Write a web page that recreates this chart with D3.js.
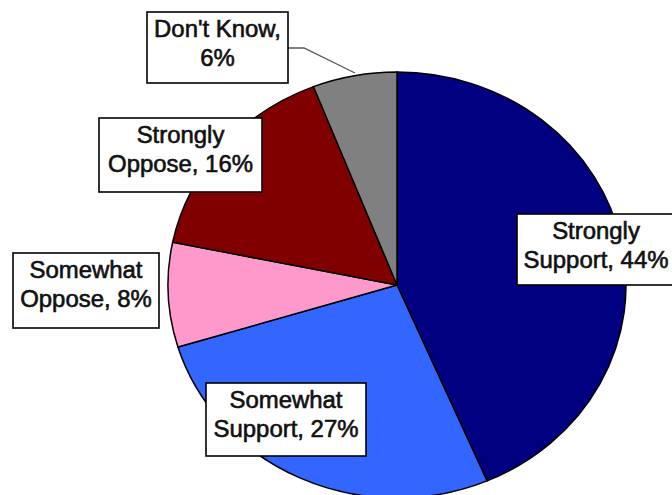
<!DOCTYPE html>
<html>
<head>
<meta charset="utf-8">
<script src="https://cdn.jsdelivr.net/npm/d3@7"></script>
<style>
  html, body { margin: 0; padding: 0; background: #fff; }
  svg { display: block; }
</style>
</head>
<body>
<div id="container"></div>
<script>
// data, clockwise from 12 o'clock
const categories = ['Strongly Support', 'Somewhat Support', 'Somewhat Oppose', 'Strongly Oppose', "Don't Know"];
const values = [44, 27, 8, 16, 6];
const labelLines = [
  ['Strongly', 'Support, 44%'],
  ['Somewhat', 'Support, 27%'],
  ['Somewhat', 'Oppose, 8%'],
  ['Strongly', 'Oppose, 16%'],
  ["Don't Know,", '6%']
];
const colors = ['#000080', '#3366ff', '#ff99cc', '#800000', '#808080'];

// layout of the label boxes (x, y, w, h)
const boxes = [
  [517, 214, 158, 71],
  [206, 383, 160, 73],
  [13, 253, 146, 75],
  [99, 118, 163, 74],
  [147, 12, 141, 71]
];

const w = 672;
const h = 495;
const cx = 397, cy = 285;
const rx = 229, ry = 213;

const svg = d3.select('#container')
  .append('svg')
  .attr('width', w)
  .attr('height', h);

const pie = d3.pie().sort(null).value(d => d);
const arcs = pie(values);
const arc = d3.arc().innerRadius(0).outerRadius(rx);

const g = svg.append('g')
  .attr('transform', 'translate(' + cx + ',' + cy + ') scale(1,' + (ry / rx) + ')');

g.selectAll('path')
  .data(arcs)
  .join('path')
  .attr('d', arc)
  .attr('fill', (d, i) => colors[i])
  .attr('stroke', '#000')
  .attr('stroke-width', 1.5)
  .attr('vector-effect', 'non-scaling-stroke');

// leader line for Don't Know
svg.append('polyline')
  .attr('points', '288,48 304,48 355,73')
  .attr('fill', 'none')
  .attr('stroke', '#555')
  .attr('stroke-width', 1.3);

const labels = svg.selectAll('g.lab')
  .data(categories)
  .join('g')
  .attr('class', 'lab');

labels.append('rect')
  .attr('x', (d, i) => boxes[i][0])
  .attr('y', (d, i) => boxes[i][1])
  .attr('width', (d, i) => boxes[i][2])
  .attr('height', (d, i) => boxes[i][3])
  .attr('fill', '#fff')
  .attr('stroke', '#000')
  .attr('stroke-width', 1.6);

labels.each(function(d, i) {
  const b = boxes[i];
  const tx = b[0] + b[2] / 2;
  const base = b[1] + 25;
  const t = d3.select(this).append('text')
    .attr('transform', 'translate(' + tx + ',' + base + ') scale(1.04,1)')
    .attr('text-anchor', 'middle')
    .attr('font-family', '"Liberation Sans", Arial, sans-serif')
    .attr('font-size', 23)
    .attr('fill', '#111')
    .attr('stroke', '#111')
    .attr('stroke-width', 0.6);
  labelLines[i].forEach((line, k) => {
    t.append('tspan').attr('x', 0).attr('y', k * 29).text(line);
  });
});
</script>
</body>
</html>
